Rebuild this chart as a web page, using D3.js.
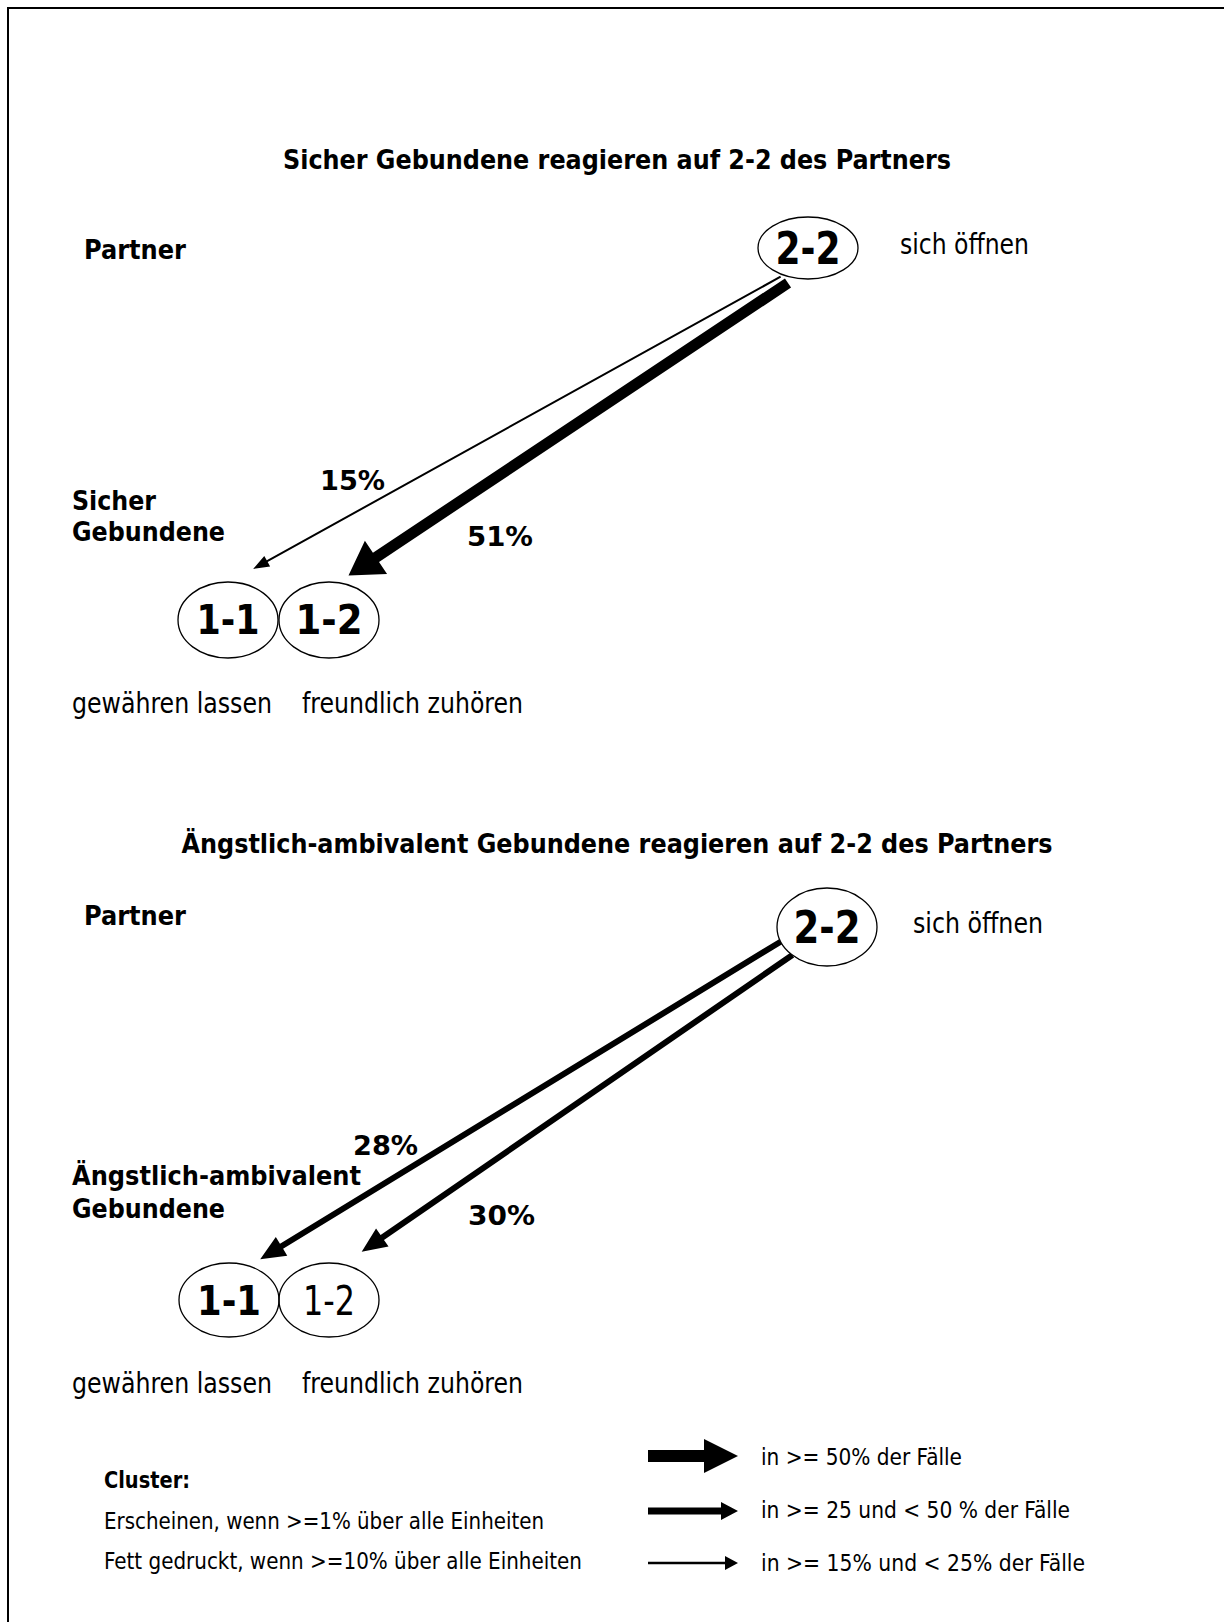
<!DOCTYPE html>
<html><head><meta charset="utf-8">
<script src="https://cdn.jsdelivr.net/npm/d3@7"></script>
<style>html,body{margin:0;padding:0;background:#fff}svg{display:block}</style>
</head><body>
<script>
// ---------------- DATA ----------------
const panelTitles = [
  "Sicher Gebundene reagieren auf 2-2 des Partners",
  "Ängstlich-ambivalent Gebundene reagieren auf 2-2 des Partners"
];
const partnerLabel = "Partner";
const groupLabels = [["Sicher", "Gebundene"], ["Ängstlich-ambivalent", "Gebundene"]];
const sourceCode = "2-2";
const sourceLabel = "sich öffnen";
const targetCodes = ["1-1", "1-2"];
const targetLabels = ["gewähren lassen", "freundlich zuhören"];
const targetBold = [[true, true], [true, false]];
const percentages = [[15, 51], [28, 30]];
const legendTitle = "Cluster:";
const legendNotes = ["Erscheinen, wenn >=1% über alle Einheiten", "Fett gedruckt, wenn >=10% über alle Einheiten"];
const legendValues = [50, 25, 15];
const legendLabels = ["in >= 50% der Fälle", "in >= 25 und < 50 % der Fälle", "in >= 15% und < 25% der Fälle"];

// ---------------- LAYOUT ----------------
const W = 1224, H = 1622;
const FONT = "Tahoma, 'DejaVu Sans Condensed', 'DejaVu Sans', Verdana, sans-serif";
const layout = [
  {
    title: {x: 617, y: 169, w: 668},
    partner: {x: 84, y: 259, w: 102},
    src: {cx: 808, cy: 248, rx: 50, ry: 31, dy: 16, tw: 65},
    srcLabel: {x: 900, y: 254, w: 129},
    group: {x: 72, y: [510, 541], w: [84, 153]},
    targets: [
      {cx: 228, cy: 620, rx: 50, ry: 38, dy: 14, tw: [63]},
      {cx: 329, cy: 620, rx: 50, ry: 38, dy: 14, tw: [67]}
    ],
    tLabels: {y: 713, x: [72, 302], w: [200, 221]},
    links: [
      {s: [-27.4, 28.7], e: [25.2, -51.1], lab: [320, 490], lw: 65},
      {s: [-20, 35], e: [19.5, -44.4], lab: [467, 546], lw: 66}
    ]
  },
  {
    title: {x: 617, y: 853, w: 871},
    partner: {x: 84, y: 925, w: 102},
    src: {cx: 827, cy: 927, rx: 50, ry: 39, dy: 16, tw: 67},
    srcLabel: {x: 913, y: 933, w: 130},
    group: {x: 72, y: [1185, 1218], w: [289, 153]},
    targets: [
      {cx: 229, cy: 1300, rx: 50, ry: 37, dy: 15, tw: [64]},
      {cx: 329, cy: 1300, rx: 50, ry: 37, dy: 15, tw: [52]}
    ],
    tLabels: {y: 1393, x: [72, 302], w: [200, 221]},
    links: [
      {s: [-46.4, 14.7], e: [31.2, -40.7], lab: [353, 1155], lw: 65},
      {s: [-34.6, 28], e: [32.7, -48.3], lab: [468, 1225], lw: 67}
    ]
  }
];
const legendLayout = {
  title: {x: 104, y: 1488, w: 86},
  notes: {x: 104, y: [1529, 1569], w: [440, 478]},
  arrows: {x0: 648, x1: 738, y: [1456, 1511, 1563]},
  labels: {x: 761, y: [1465, 1518, 1571], w: [201, 309, 324]}
};

// arrow class by percentage, via a threshold scale
const arrowClass = d3.scaleThreshold().domain([25, 50]).range(["thin", "medium", "thick"]);
const arrowStyle = {
  thin:   {w: 2,  hl: 16, hh: 6},
  medium: {w: 6,  hl: 25, hh: 11},
  thick:  {w: 11, hl: 33, hh: 20}
};
const legendArrowStyle = {
  thin:   {w: 2.5, hl: 13, hh: 7},
  medium: {w: 7,   hl: 17, hh: 9},
  thick:  {w: 12,  hl: 34, hh: 17}
};

// ---------------- DRAW ----------------
const svg = d3.select("body").append("svg").attr("width", W).attr("height", H);
svg.append("rect").attr("width", W).attr("height", H).attr("fill", "#fff");
svg.append("rect").attr("x", 8).attr("y", 8).attr("width", W + 40).attr("height", H + 40)
  .attr("fill", "none").attr("stroke", "#000").attr("stroke-width", 2);

function txt(g, s, x, y, o) {
  const t = g.append("text").text(s).attr("x", x).attr("y", y)
    .attr("font-family", FONT).attr("font-size", o.size)
    .attr("font-weight", o.bold ? "bold" : "normal")
    .attr("text-anchor", o.anchor || "start").attr("fill", "#000");
  if (o.w) t.attr("textLength", o.w).attr("lengthAdjust", "spacingAndGlyphs");
  return t;
}

function arrowPoints(S, T, st) {
  const dx = T[0] - S[0], dy = T[1] - S[1], len = Math.hypot(dx, dy);
  const ux = dx / len, uy = dy / len, nx = -uy, ny = ux;
  const B = [T[0] - ux * st.hl, T[1] - uy * st.hl];
  const h = st.w / 2;
  return [
    [S[0] + nx * h, S[1] + ny * h], [B[0] + nx * h, B[1] + ny * h], [B[0] + nx * st.hh, B[1] + ny * st.hh],
    T, [B[0] - nx * st.hh, B[1] - ny * st.hh], [B[0] - nx * h, B[1] - ny * h], [S[0] - nx * h, S[1] - ny * h]
  ];
}
const polyLine = d3.line().curve(d3.curveLinearClosed);

panelTitles.forEach((title, p) => {
  const L = layout[p];
  const g = svg.append("g").attr("class", "panel");
  txt(g, title, L.title.x, L.title.y, {size: 26, bold: true, anchor: "middle", w: L.title.w});
  txt(g, partnerLabel, L.partner.x, L.partner.y, {size: 26, bold: true, w: L.partner.w});

  // arrows (under nodes)
  percentages[p].forEach((pct, i) => {
    const lk = L.links[i], tn = L.targets[i];
    const S = [L.src.cx + lk.s[0], L.src.cy + lk.s[1]];
    const T = [tn.cx + lk.e[0], tn.cy + lk.e[1]];
    const st = arrowStyle[arrowClass(pct)];
    g.append("path").attr("d", polyLine(arrowPoints(S, T, st))).attr("fill", "#000");
    txt(g, pct + "%", lk.lab[0], lk.lab[1], {size: 26, bold: true, w: lk.lw});
  });

  // source node
  g.append("ellipse").attr("cx", L.src.cx).attr("cy", L.src.cy).attr("rx", L.src.rx).attr("ry", L.src.ry)
    .attr("fill", "#fff").attr("stroke", "#000").attr("stroke-width", 1.3);
  txt(g, sourceCode, L.src.cx, L.src.cy + L.src.dy, {size: 45, bold: true, anchor: "middle", w: L.src.tw});
  txt(g, sourceLabel, L.srcLabel.x, L.srcLabel.y, {size: 28, w: L.srcLabel.w});

  // group label
  groupLabels[p].forEach((s, k) => txt(g, s, L.group.x, L.group.y[k], {size: 26, bold: true, w: L.group.w[k]}));

  // target nodes
  targetCodes.forEach((code, i) => {
    const tn = L.targets[i];
    g.append("ellipse").attr("cx", tn.cx).attr("cy", tn.cy).attr("rx", tn.rx).attr("ry", tn.ry)
      .attr("fill", "none").attr("stroke", "#000").attr("stroke-width", 1.3);
    txt(g, code, tn.cx, tn.cy + tn.dy, {size: 40, bold: targetBold[p][i], anchor: "middle", w: tn.tw[0]});
    txt(g, targetLabels[i], L.tLabels.x[i], L.tLabels.y, {size: 28, w: L.tLabels.w[i]});
  });
});

// legend
const lg = svg.append("g").attr("class", "legend");
const LL = legendLayout;
txt(lg, legendTitle, LL.title.x, LL.title.y, {size: 23, bold: true, w: LL.title.w});
legendNotes.forEach((s, k) => txt(lg, s, LL.notes.x, LL.notes.y[k], {size: 23, w: LL.notes.w[k]}));
legendValues.forEach((v, k) => {
  const st = legendArrowStyle[arrowClass(v)];
  const y = LL.arrows.y[k];
  lg.append("path").attr("d", polyLine(arrowPoints([LL.arrows.x0, y], [LL.arrows.x1, y], st))).attr("fill", "#000");
  txt(lg, legendLabels[k], LL.labels.x, LL.labels.y[k], {size: 23, w: LL.labels.w[k]});
});
</script>
</body></html>
